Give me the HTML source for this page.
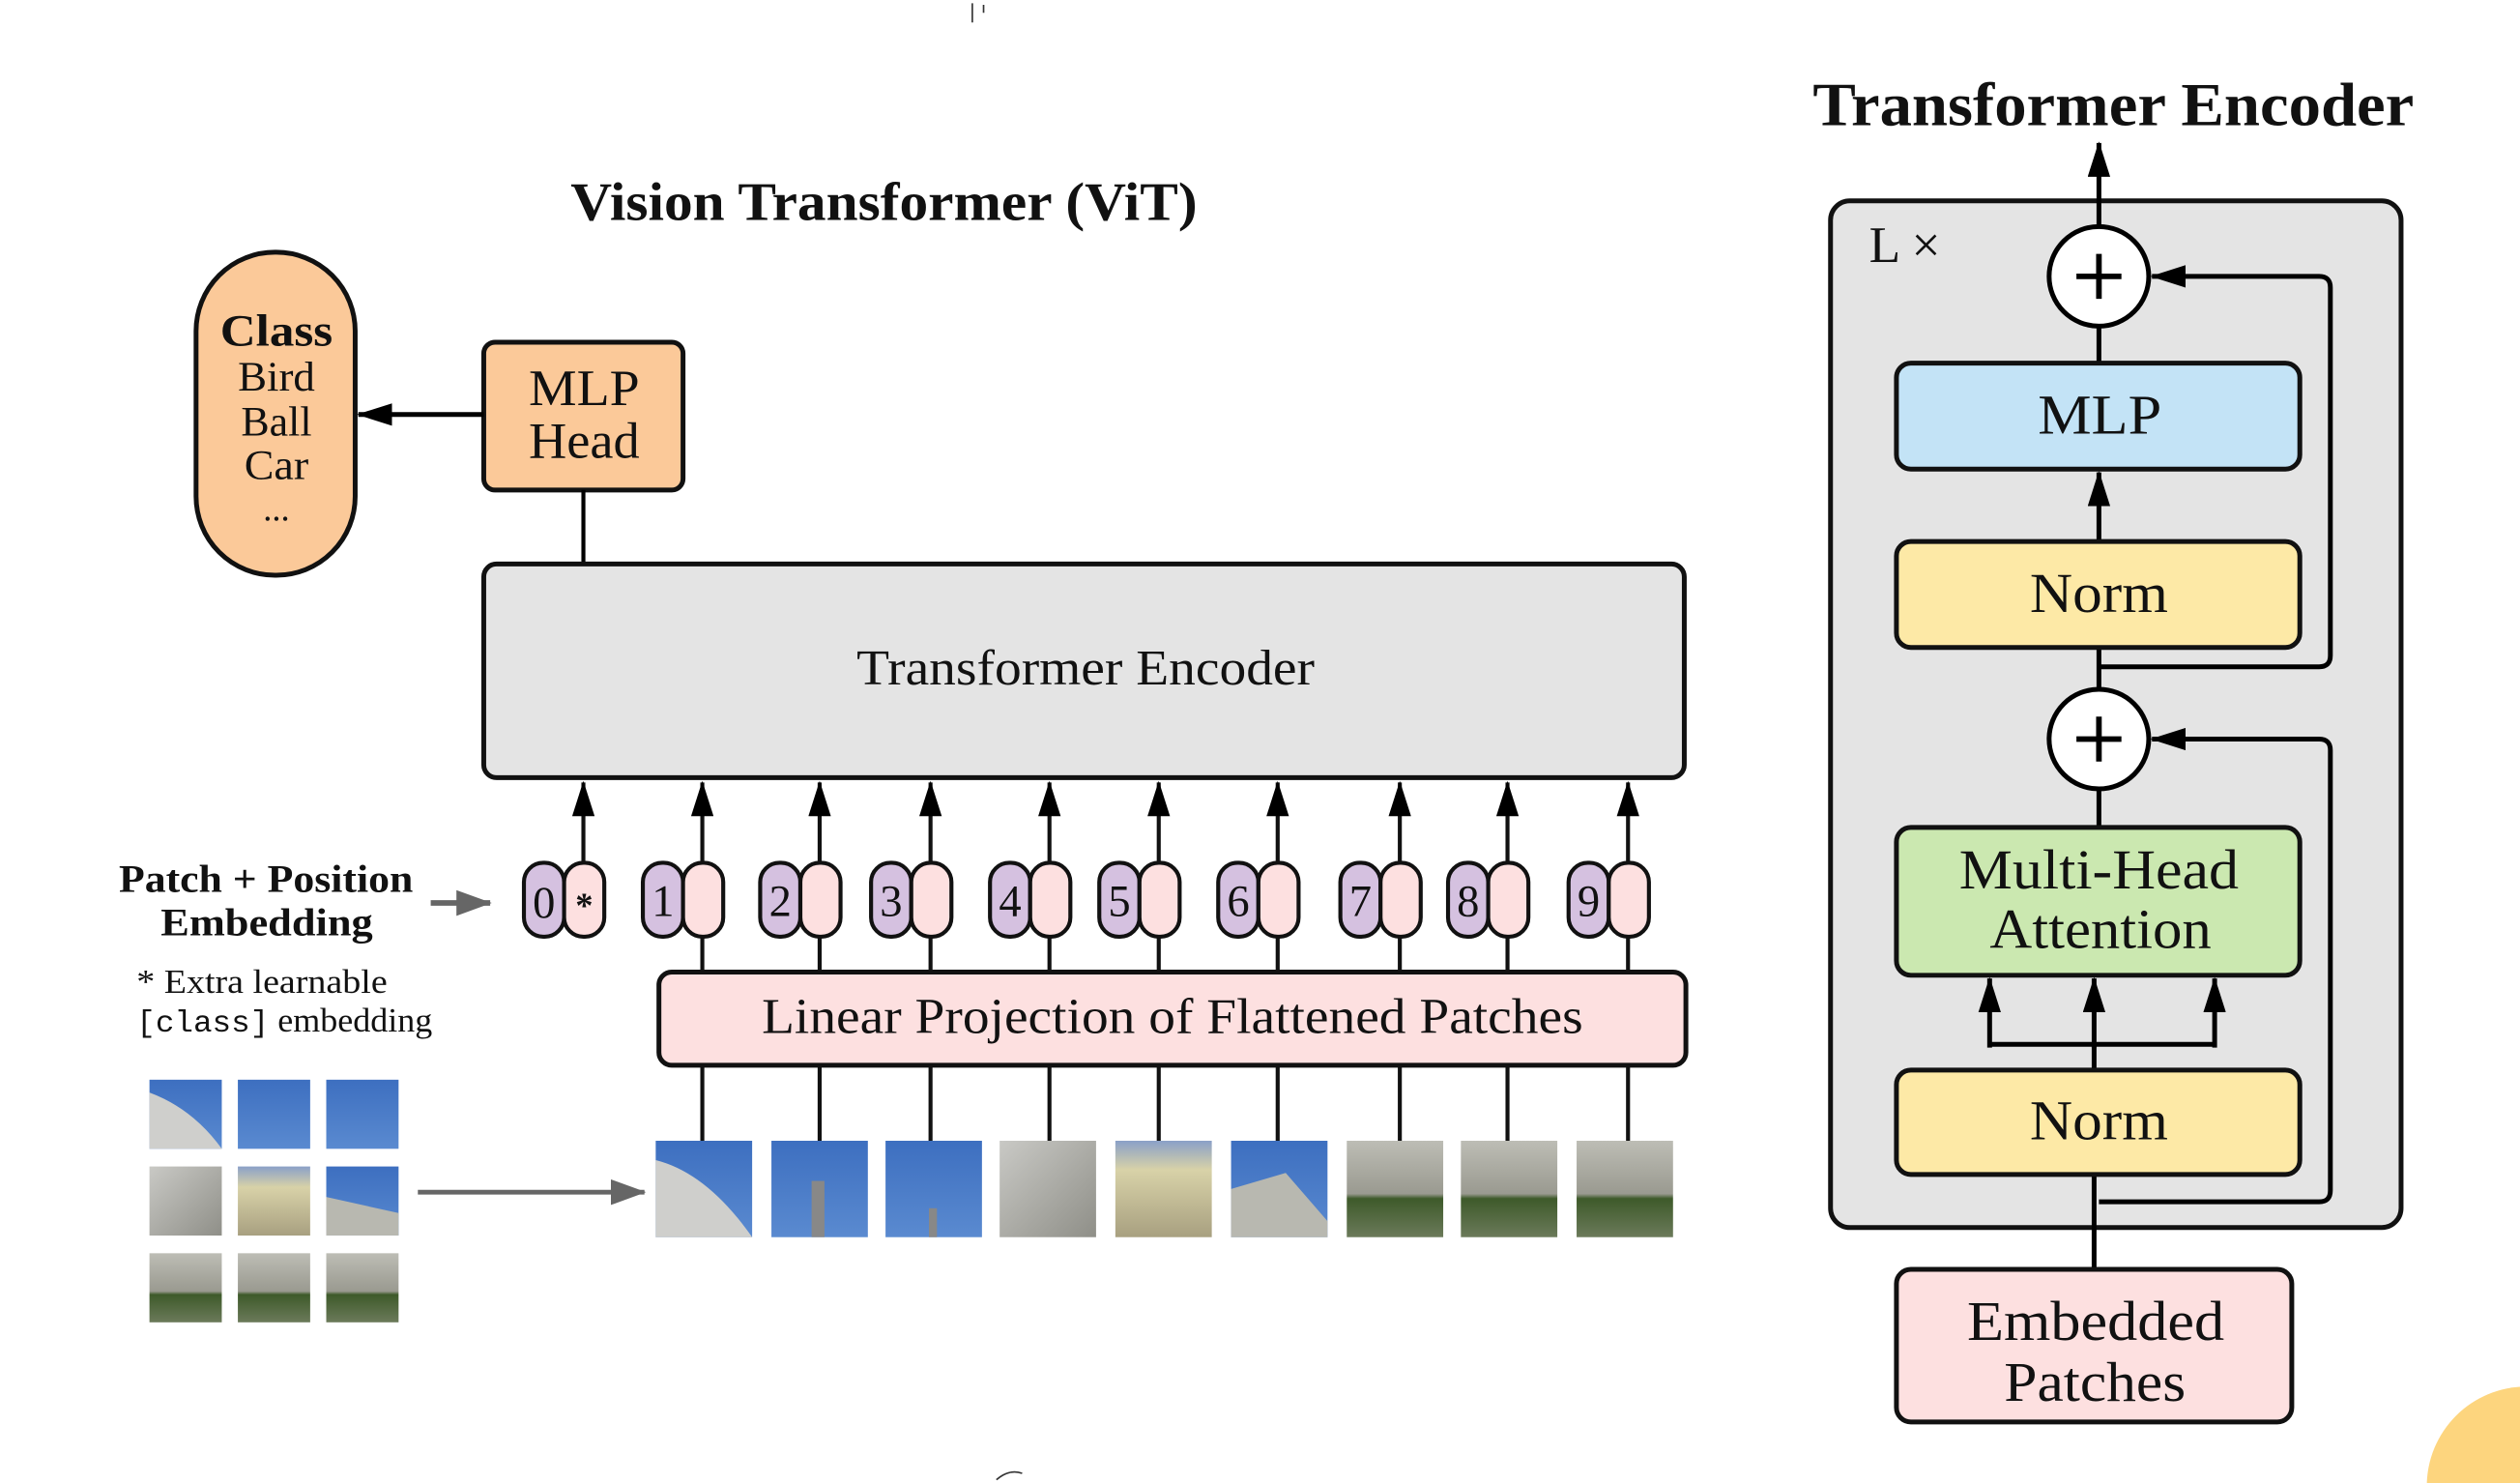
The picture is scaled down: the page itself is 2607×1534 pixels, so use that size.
<!DOCTYPE html>
<html><head><meta charset="utf-8"><style>
html,body{margin:0;padding:0;background:#fff;overflow:hidden;width:2607px;height:1534px;}
svg{display:block;}
text{font-family:"Liberation Serif",serif;fill:#111;}
</style></head><body>
<svg width="2607" height="1534" viewBox="0 0 1568 923" preserveAspectRatio="none" xmlns="http://www.w3.org/2000/svg">
<defs>
<marker id="ah" viewBox="0 0 22 14" refX="21" refY="7" markerWidth="22" markerHeight="14" markerUnits="userSpaceOnUse" orient="auto"><path d="M0,0 L22,7 L0,14 z" fill="#000"/></marker>
<marker id="ag" viewBox="0 0 22 16" refX="21" refY="8" markerWidth="22" markerHeight="16" markerUnits="userSpaceOnUse" orient="auto"><path d="M0,0 L22,8 L0,16 z" fill="#666"/></marker>
<linearGradient id="sky" x1="0" y1="0" x2="0" y2="1"><stop offset="0" stop-color="#3d6fc0"/><stop offset="1" stop-color="#5a8ad0"/></linearGradient>
<linearGradient id="bld" x1="0" y1="0" x2="1" y2="1"><stop offset="0" stop-color="#c9c9c5"/><stop offset="1" stop-color="#8f8f88"/></linearGradient>
<linearGradient id="grn" x1="0" y1="0" x2="0" y2="1"><stop offset="0" stop-color="#bdbdb5"/><stop offset="0.55" stop-color="#9a9a90"/><stop offset="0.6" stop-color="#3e5a2a"/><stop offset="1" stop-color="#6b7a5a"/></linearGradient>
<linearGradient id="yel" x1="0" y1="0" x2="0" y2="1"><stop offset="0" stop-color="#8aa0c8"/><stop offset="0.3" stop-color="#d8d2a8"/><stop offset="1" stop-color="#a8a080"/></linearGradient>
</defs>

<path d="M605,2 L605,14 M612,3 L612,8" stroke="#333" stroke-width="1" fill="none"/>
<path d="M620,921 Q628,914 636,917" stroke="#333" stroke-width="1" fill="none"/>
<circle cx="1572" cy="925" r="62" fill="#fdd57e"/>

<text x="355" y="137" font-size="34" font-weight="bold" textLength="390" lengthAdjust="spacingAndGlyphs">Vision Transformer (ViT)</text>

<rect x="122" y="157" width="99" height="201" rx="49" fill="#fbc999" stroke="#111" stroke-width="3"/>
<text x="137" y="215" font-size="28" font-weight="bold" textLength="70" lengthAdjust="spacingAndGlyphs">Class</text>
<text x="148" y="243" font-size="26" textLength="48" lengthAdjust="spacingAndGlyphs">Bird</text>
<text x="150" y="271" font-size="26" textLength="44" lengthAdjust="spacingAndGlyphs">Ball</text>
<text x="152" y="298" font-size="26" textLength="40" lengthAdjust="spacingAndGlyphs">Car</text>
<text x="172" y="324" font-size="22" text-anchor="middle">...</text>

<rect x="301" y="213" width="124" height="92" rx="7" fill="#fbc999" stroke="#111" stroke-width="3"/>
<text x="329" y="252" font-size="32" textLength="69" lengthAdjust="spacingAndGlyphs">MLP</text>
<text x="329" y="285" font-size="32" textLength="69" lengthAdjust="spacingAndGlyphs">Head</text>
<line x1="301" y1="258" x2="223" y2="258" stroke="#000" stroke-width="3" marker-end="url(#ah)"/>
<line x1="363" y1="305" x2="363" y2="351" stroke="#000" stroke-width="2.5"/>

<rect x="301" y="351" width="747" height="133" rx="8" fill="#e4e4e4" stroke="#111" stroke-width="3"/>
<text x="533" y="426" font-size="31" textLength="285" lengthAdjust="spacingAndGlyphs">Transformer Encoder</text>

<text x="74" y="555" font-size="24" font-weight="bold" textLength="183" lengthAdjust="spacingAndGlyphs">Patch + Position</text>
<text x="100" y="582" font-size="24" font-weight="bold" textLength="132" lengthAdjust="spacingAndGlyphs">Embedding</text>
<line x1="268" y1="562" x2="305" y2="562" stroke="#666" stroke-width="3.5" marker-end="url(#ag)"/>
<text x="85" y="618" font-size="21" textLength="156" lengthAdjust="spacingAndGlyphs">* Extra learnable</text>
<text x="85" y="642" font-size="21" textLength="184" lengthAdjust="spacingAndGlyphs"><tspan font-family="Liberation Mono,monospace" font-size="19">[class]</tspan> embedding</text>

<!-- connectors -->
<g stroke="#111" stroke-width="2.5">
<line x1="363" y1="537" x2="363" y2="487" marker-end="url(#ah)"/>
<line x1="437" y1="537" x2="437" y2="487" marker-end="url(#ah)"/>
<line x1="510" y1="537" x2="510" y2="487" marker-end="url(#ah)"/>
<line x1="579" y1="537" x2="579" y2="487" marker-end="url(#ah)"/>
<line x1="653" y1="537" x2="653" y2="487" marker-end="url(#ah)"/>
<line x1="721" y1="537" x2="721" y2="487" marker-end="url(#ah)"/>
<line x1="795" y1="537" x2="795" y2="487" marker-end="url(#ah)"/>
<line x1="871" y1="537" x2="871" y2="487" marker-end="url(#ah)"/>
<line x1="938" y1="537" x2="938" y2="487" marker-end="url(#ah)"/>
<line x1="1013" y1="537" x2="1013" y2="487" marker-end="url(#ah)"/>
<line x1="437" y1="583" x2="437" y2="710"/>
<line x1="510" y1="583" x2="510" y2="710"/>
<line x1="579" y1="583" x2="579" y2="710"/>
<line x1="653" y1="583" x2="653" y2="710"/>
<line x1="721" y1="583" x2="721" y2="710"/>
<line x1="795" y1="583" x2="795" y2="710"/>
<line x1="871" y1="583" x2="871" y2="710"/>
<line x1="938" y1="583" x2="938" y2="710"/>
<line x1="1013" y1="583" x2="1013" y2="710"/>
</g>

<rect x="410" y="605" width="639" height="58" rx="8" fill="#fde0e0" stroke="#111" stroke-width="3"/>
<text x="474" y="643" font-size="31" textLength="511" lengthAdjust="spacingAndGlyphs">Linear Projection of Flattened Patches</text>

<g stroke="#111" stroke-width="2.5">
<rect x="326" y="537" width="25" height="46" rx="12" fill="#d5c1e0"/><rect x="351" y="537" width="25" height="46" rx="12" fill="#fde0e0"/>
<rect x="400" y="537" width="25" height="46" rx="12" fill="#d5c1e0"/><rect x="425" y="537" width="25" height="46" rx="12" fill="#fde0e0"/>
<rect x="473" y="537" width="25" height="46" rx="12" fill="#d5c1e0"/><rect x="498" y="537" width="25" height="46" rx="12" fill="#fde0e0"/>
<rect x="542" y="537" width="25" height="46" rx="12" fill="#d5c1e0"/><rect x="567" y="537" width="25" height="46" rx="12" fill="#fde0e0"/>
<rect x="616" y="537" width="25" height="46" rx="12" fill="#d5c1e0"/><rect x="641" y="537" width="25" height="46" rx="12" fill="#fde0e0"/>
<rect x="684" y="537" width="25" height="46" rx="12" fill="#d5c1e0"/><rect x="709" y="537" width="25" height="46" rx="12" fill="#fde0e0"/>
<rect x="758" y="537" width="25" height="46" rx="12" fill="#d5c1e0"/><rect x="783" y="537" width="25" height="46" rx="12" fill="#fde0e0"/>
<rect x="834" y="537" width="25" height="46" rx="12" fill="#d5c1e0"/><rect x="859" y="537" width="25" height="46" rx="12" fill="#fde0e0"/>
<rect x="901" y="537" width="25" height="46" rx="12" fill="#d5c1e0"/><rect x="926" y="537" width="25" height="46" rx="12" fill="#fde0e0"/>
<rect x="976" y="537" width="25" height="46" rx="12" fill="#d5c1e0"/><rect x="1001" y="537" width="25" height="46" rx="12" fill="#fde0e0"/>
</g>
<g font-size="28" text-anchor="middle">
<text x="338.5" y="571">0</text><text x="363.5" y="571" font-size="22" font-weight="bold">*</text>
<text x="412.5" y="570">1</text><text x="485.5" y="570">2</text><text x="554.5" y="570">3</text>
<text x="628.5" y="570">4</text><text x="696.5" y="570">5</text><text x="770.5" y="570">6</text>
<text x="846.5" y="570">7</text><text x="913.5" y="570">8</text><text x="988.5" y="570">9</text>
</g>

<rect x="408" y="710" width="60" height="60" fill="url(#sky)"/><path d="M408,722 Q440,730 468,770 L408,770z" fill="#cfcfcc"/>
<rect x="480" y="710" width="60" height="60" fill="url(#sky)"/><rect x="505" y="735" width="8" height="35" fill="#888"/>
<rect x="551" y="710" width="60" height="60" fill="url(#sky)"/><rect x="578" y="752" width="5" height="18" fill="#888"/>
<rect x="622" y="710" width="60" height="60" fill="url(#bld)"/>
<rect x="694" y="710" width="60" height="60" fill="url(#yel)"/>
<rect x="766" y="710" width="60" height="60" fill="url(#sky)"/><path d="M766,740 L800,730 L826,760 L826,770 L766,770z" fill="#b8b8b0"/>
<rect x="838" y="710" width="60" height="60" fill="url(#grn)"/>
<rect x="909" y="710" width="60" height="60" fill="url(#grn)"/>
<rect x="981" y="710" width="60" height="60" fill="url(#grn)"/>

<rect x="93" y="672" width="45" height="43" fill="url(#sky)"/><path d="M93,680 Q120,690 138,715 L93,715z" fill="#cfcfcc"/>
<rect x="148" y="672" width="45" height="43" fill="url(#sky)"/>
<rect x="203" y="672" width="45" height="43" fill="url(#sky)"/>
<rect x="93" y="726" width="45" height="43" fill="url(#bld)"/>
<rect x="148" y="726" width="45" height="43" fill="url(#yel)"/>
<rect x="203" y="726" width="45" height="43" fill="url(#sky)"/><path d="M203,745 L248,755 L248,769 L203,769z" fill="#b8b8b0"/>
<rect x="93" y="780" width="45" height="43" fill="url(#grn)"/>
<rect x="148" y="780" width="45" height="43" fill="url(#grn)"/>
<rect x="203" y="780" width="45" height="43" fill="url(#grn)"/>
<line x1="260" y1="742" x2="401" y2="742" stroke="#666" stroke-width="3" marker-end="url(#ag)"/>

<!-- Right side -->
<text x="1128" y="78" font-size="38" font-weight="bold" textLength="374" lengthAdjust="spacingAndGlyphs">Transformer Encoder</text>
<rect x="1139" y="125" width="355" height="639" rx="12" fill="#e4e4e4" stroke="#111" stroke-width="3"/>
<text x="1163" y="163" font-size="32">L ×</text>

<g stroke="#000" stroke-width="3" fill="none">
<line x1="1306" y1="141" x2="1306" y2="89" marker-end="url(#ah)"/>
<line x1="1306" y1="203" x2="1306" y2="226"/>
<line x1="1306" y1="337" x2="1306" y2="294" marker-end="url(#ah)"/>
<line x1="1306" y1="403" x2="1306" y2="429"/>
<path d="M1306,415 L1443,415 Q1450,415 1450,408 L1450,179 Q1450,172 1443,172 L1339,172" marker-end="url(#ah)"/>
<line x1="1306" y1="491" x2="1306" y2="515"/>
<path d="M1306,748 L1443,748 Q1450,748 1450,741 L1450,467 Q1450,460 1443,460 L1339,460" marker-end="url(#ah)"/>
<line x1="1303" y1="666" x2="1303" y2="650"/>
<path d="M1238,650 L1378,650"/>
<line x1="1238" y1="652" x2="1238" y2="609" marker-end="url(#ah)"/>
<line x1="1303" y1="652" x2="1303" y2="609" marker-end="url(#ah)"/>
<line x1="1378" y1="652" x2="1378" y2="609" marker-end="url(#ah)"/>
<line x1="1303" y1="731" x2="1303" y2="790"/>
</g>
<circle cx="1306" cy="172" r="31" fill="#fff" stroke="#000" stroke-width="3"/>
<path d="M1292,172 H1320 M1306,158 V186" stroke="#000" stroke-width="3.5"/>
<circle cx="1306" cy="460" r="31" fill="#fff" stroke="#000" stroke-width="3"/>
<path d="M1292,460 H1320 M1306,446 V474" stroke="#000" stroke-width="3.5"/>

<rect x="1180" y="226" width="251" height="66" rx="9" fill="#c3e3f6" stroke="#111" stroke-width="3"/>
<text x="1268" y="270" font-size="35" textLength="77" lengthAdjust="spacingAndGlyphs">MLP</text>
<rect x="1180" y="337" width="251" height="66" rx="9" fill="#fde9a6" stroke="#111" stroke-width="3"/>
<text x="1263" y="381" font-size="35" textLength="86" lengthAdjust="spacingAndGlyphs">Norm</text>
<rect x="1180" y="515" width="251" height="92" rx="9" fill="#cbe8b0" stroke="#111" stroke-width="3"/>
<text x="1219" y="553" font-size="35" textLength="174" lengthAdjust="spacingAndGlyphs">Multi-Head</text>
<text x="1238" y="590" font-size="35" textLength="138" lengthAdjust="spacingAndGlyphs">Attention</text>
<rect x="1180" y="666" width="251" height="65" rx="9" fill="#fde9a6" stroke="#111" stroke-width="3"/>
<text x="1263" y="709" font-size="35" textLength="86" lengthAdjust="spacingAndGlyphs">Norm</text>
<rect x="1180" y="790" width="246" height="95" rx="9" fill="#fde0e0" stroke="#111" stroke-width="3"/>
<text x="1224" y="834" font-size="35" textLength="160" lengthAdjust="spacingAndGlyphs">Embedded</text>
<text x="1247" y="872" font-size="35" textLength="113" lengthAdjust="spacingAndGlyphs">Patches</text>
</svg>
</body></html>
